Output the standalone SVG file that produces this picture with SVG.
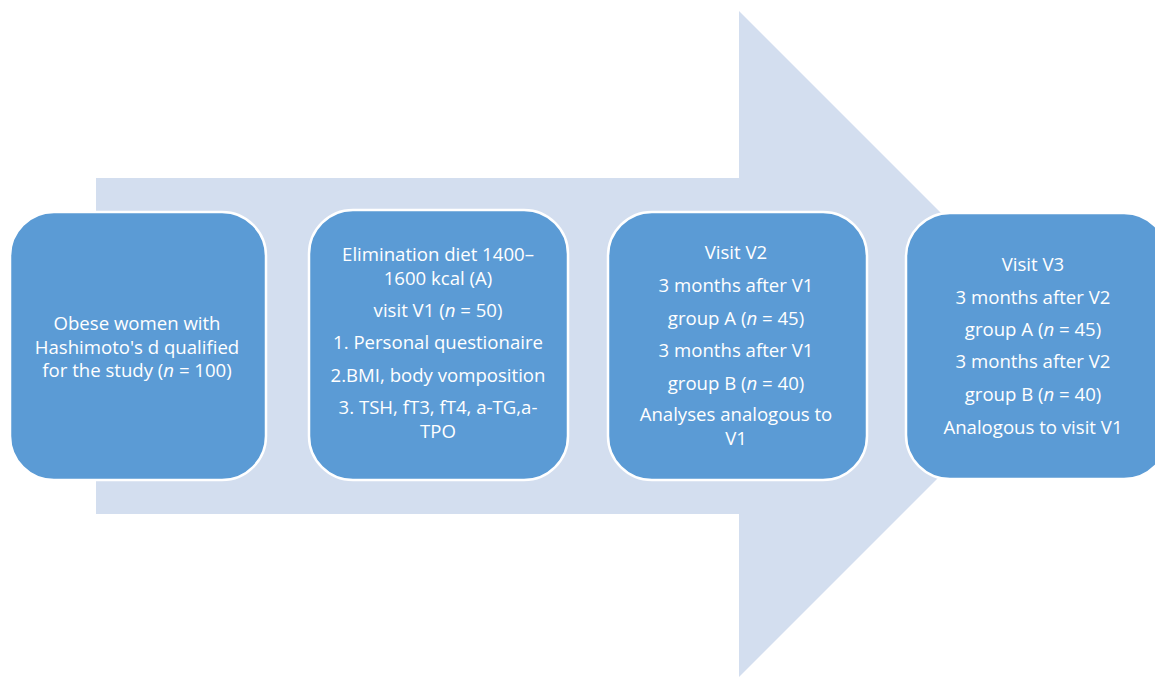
<svg xmlns="http://www.w3.org/2000/svg" width="1155" height="678" viewBox="0 0 1155 678">
<style>
.box{fill:#5B9BD5;stroke:#FFFFFF;stroke-width:2.5}
.t{font-family:"Open Sans","Liberation Sans",Arial,sans-serif;font-size:18.6px;fill:#FFFFFF;text-anchor:middle}
.i{font-style:italic}
</style>
<rect width="1155" height="678" fill="#FFFFFF"/>
<g id="connectors">
<polygon points="96,178 739,178 739,11 1072,344 739,677 739,514 96,514" fill="#D3DEEF"/>
</g>
<g id="node1">
<rect class="box" x="10" y="212" width="256" height="268" rx="44"/>
<text class="t" x="137" y="330">Obese women with</text>
<text class="t" x="137" y="353.5">Hashimoto's d qualified</text>
<text class="t" x="137" y="377">for the study (<tspan class="i">n</tspan> = 100)</text>
</g>
<g id="node2">
<rect class="box" x="309" y="210" width="259" height="270" rx="44"/>
<text class="t" x="438" y="261">Elimination diet 1400–</text>
<text class="t" x="438" y="285">1600 kcal (A)</text>
<text class="t" x="438" y="317">visit V1 (<tspan class="i">n</tspan> = 50)</text>
<text class="t" x="438" y="349">1. Personal questionaire</text>
<text class="t" x="438" y="382">2.BMI, body vomposition</text>
<text class="t" x="438" y="414">3. TSH, fT3, fT4, a-TG,a-</text>
<text class="t" x="438" y="438">TPO</text>
</g>
<g id="node3">
<rect class="box" x="608" y="212" width="259" height="268" rx="44"/>
<text class="t" x="736" y="259">Visit V2</text>
<text class="t" x="736" y="292">3 months after V1</text>
<text class="t" x="736" y="325">group A (<tspan class="i">n</tspan> = 45)</text>
<text class="t" x="736" y="357">3 months after V1</text>
<text class="t" x="736" y="390">group B (<tspan class="i">n</tspan> = 40)</text>
<text class="t" x="736" y="421">Analyses analogous to</text>
<text class="t" x="736" y="445">V1</text>
</g>
<g id="node4">
<rect class="box" x="906" y="213" width="262" height="266" rx="44"/>
<text class="t" x="1033" y="271">Visit V3</text>
<text class="t" x="1033" y="304">3 months after V2</text>
<text class="t" x="1033" y="336">group A (<tspan class="i">n</tspan> = 45)</text>
<text class="t" x="1033" y="368">3 months after V2</text>
<text class="t" x="1033" y="401">group B (<tspan class="i">n</tspan> = 40)</text>
<text class="t" x="1033" y="434">Analogous to visit V1</text>
</g>
</svg>
